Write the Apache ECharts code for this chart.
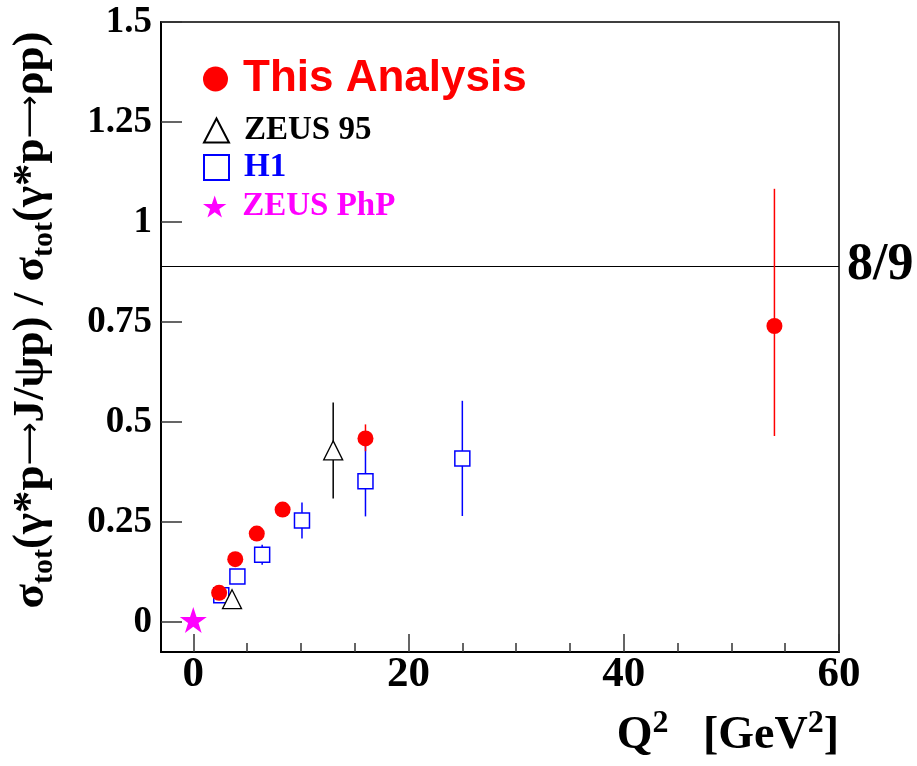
<!DOCTYPE html>
<html>
<head>
<meta charset="utf-8">
<script src="https://cdn.jsdelivr.net/npm/echarts@6/dist/echarts.min.js"></script>
<style>
  html, body { margin: 0; padding: 0; background: #fff; }
  #chart { width: 917px; height: 766px; }
</style>
</head>
<body>
<div id="chart"></div>
<script>
// Ratio sigma(J/psi) / sigma(rho) versus Q^2 [GeV^2]
const thisQ2 = [2.4, 3.9, 5.9, 8.3, 16.0, 54.0];
const thisRatio = [0.073, 0.157, 0.221, 0.281, 0.459, 0.740];
const thisErrUp = [0.010, 0.012, 0.014, 0.016, 0.035, 0.343];
const thisErrDown = [0.010, 0.012, 0.014, 0.016, 0.032, 0.275];

const zeusQ2 = [3.6, 13.0];
const zeusRatio = [0.057, 0.429];
const zeusErr = [0.012, 0.120];

const h1Q2 = [2.6, 4.1, 6.4, 10.1, 16.0, 25.0];
const h1Ratio = [0.067, 0.114, 0.168, 0.254, 0.352, 0.409];
const h1Err = [0.010, 0.012, 0.025, 0.045, 0.088, 0.144];

const phpQ2 = [0.0];
const phpRatio = [0.005];

const yTickValues = [0, 0.25, 0.5, 0.75, 1, 1.25, 1.5];
const xMajorTicks = [0, 20, 40, 60];
const xMinorTicks = [5, 10, 15, 25, 30, 35, 45, 50, 55];
const chargeRatio = 8 / 9;

const SERIF = '"Liberation Serif", "Times New Roman", serif';
const SANS = '"Liberation Sans", Arial, Helvetica, sans-serif';
const STAR = 'path://M50,0 L61.8,35.1 L98.9,35.1 L68.9,56.8 L80.3,91.9 L50,70.2 L19.7,91.9 L31.1,56.8 L1.1,35.1 L38.2,35.1 Z';

const pairs = (xs, ys) => xs.map((x, i) => [x, ys[i]]);
const bars = (xs, ys, up, down) => xs.map((x, i) => [x, ys[i] - down[i], ys[i] + up[i]]);

// vertical error bar drawn through the axis scales
function errorBar(color, width) {
  return function (params, api) {
    const hi = api.coord([api.value(0), api.value(2)]);
    const lo = api.coord([api.value(0), api.value(1)]);
    return {
      type: 'line',
      shape: { x1: hi[0], y1: hi[1], x2: lo[0], y2: lo[1] },
      style: { stroke: color, lineWidth: width }
    };
  };
}

function legendEntry(name, top, icon, size, font, color, w, h) {
  return {
    left: 203, top: top, orient: 'vertical', padding: 0,
    itemWidth: w, itemHeight: h, selectedMode: false,
    data: [{ name: name, icon: icon }],
    textStyle: {
      fontFamily: font, fontWeight: 'bold', fontSize: size,
      color: color, lineHeight: size, padding: [0, 0, 0, 10]
    }
  };
}

const chart = echarts.init(document.getElementById('chart'), null, { renderer: 'canvas' });

const titleRich = {
  m: { fontFamily: SERIF, fontWeight: 'bold', fontSize: 45, color: '#000', lineHeight: 56 },
  a: { fontFamily: '"DejaVu Sans", sans-serif', fontWeight: 'normal', fontSize: 30, color: '#000', lineHeight: 56 },
  b: { fontFamily: SERIF, fontWeight: 'bold', fontSize: 30, color: '#000', lineHeight: 30, padding: [26, 0, 0, 0] }
};

chart.setOption({
  animation: false,
  backgroundColor: '#fff',
  grid: {
    left: 161, right: 78, top: 22, bottom: 114,
    outerBoundsMode: 'none', containLabel: false,
    show: true, borderColor: '#000', borderWidth: 1.5, backgroundColor: 'transparent'
  },
  legend: [
    legendEntry('This Analysis', 57, 'circle', 44, SANS, '#ff0000', 25, 25),
    legendEntry('ZEUS 95', 114, 'triangle', 33, SERIF, '#000', 25, 24),
    legendEntry('H1', 151, 'rect', 33, SERIF, '#0000ff', 25, 25),
    legendEntry('ZEUS PhP', 190, STAR, 33, SERIF, '#ff00ff', 25, 22)
  ],
  xAxis: [
    {
      type: 'value', min: -3, max: 60, position: 'bottom',
      splitLine: { show: false },
      axisLine: { onZero: false, lineStyle: { color: '#000', width: 2 } },
      axisTick: { inside: true, length: 18, customValues: xMajorTicks, lineStyle: { color: '#333', width: 1.5 } },
      axisLabel: {
        customValues: xMajorTicks, margin: 1,
        fontFamily: SERIF, fontWeight: 'bold', fontSize: 43, color: '#000'
      },
      name: '{t|Q}{s|2}{t|   [GeV}{s|2}{t|]}',
      nameLocation: 'end', nameGap: 0,
      nameTextStyle: {
        align: 'right', verticalAlign: 'top', padding: [58, 0, 0, 0],
        rich: {
          t: { fontFamily: SERIF, fontWeight: 'bold', fontSize: 46, color: '#000', lineHeight: 52 },
          s: { fontFamily: SERIF, fontWeight: 'bold', fontSize: 32, color: '#000', lineHeight: 32, padding: [0, 0, 24, 0] }
        }
      }
    },
    {
      type: 'value', min: -3, max: 60, position: 'bottom',
      splitLine: { show: false },
      axisLine: { show: false, onZero: false },
      axisTick: { inside: true, length: 9, customValues: xMinorTicks, lineStyle: { color: '#333', width: 1.5 } },
      axisLabel: { show: false }
    }
  ],
  yAxis: {
    type: 'value', min: -0.075, max: 1.5,
    splitLine: { show: false },
    axisLine: { onZero: false, lineStyle: { color: '#000', width: 2 } },
    axisTick: { inside: true, length: 21, customValues: yTickValues, lineStyle: { color: '#333', width: 1.5 } },
    axisLabel: {
      customValues: yTickValues, margin: 9,
      fontFamily: SERIF, fontWeight: 'bold', fontSize: 37, color: '#000'
    },
    name: '{m|σ}{b|tot}{m|(γ*p}{a|⟶}{m|J/ψp) / σ}{b|tot}{m|(γ*p}{a|⟶}{m|ρp)}',
    nameLocation: 'middle', nameGap: 102, nameRotate: 90,
    nameTextStyle: { rich: titleRich, padding: [0, 0, 0, 34] }
  },
  series: [
    {
      name: 'H1 err', type: 'custom', renderItem: errorBar('#0000ff', 1.5),
      encode: { x: 0, y: [1, 2] }, z: 2,
      data: bars(h1Q2, h1Ratio, h1Err, h1Err)
    },
    {
      name: 'H1', type: 'scatter', symbol: 'rect', symbolSize: 15, z: 3,
      itemStyle: { color: '#fff', borderColor: '#0000ff', borderWidth: 1.5, opacity: 1 },
      data: pairs(h1Q2, h1Ratio)
    },
    {
      name: 'ZEUS 95 err', type: 'custom', renderItem: errorBar('#000', 1.5),
      encode: { x: 0, y: [1, 2] }, z: 4,
      data: bars(zeusQ2, zeusRatio, zeusErr, zeusErr)
    },
    {
      name: 'ZEUS 95', type: 'scatter', symbol: 'triangle', symbolSize: [19, 19], z: 5,
      itemStyle: { color: '#fff', borderColor: '#000', borderWidth: 1.3, opacity: 1 },
      data: pairs(zeusQ2, zeusRatio)
    },
    {
      name: 'ZEUS PhP', type: 'scatter', symbol: STAR, symbolSize: [27, 26], z: 6,
      itemStyle: { color: '#ff00ff', opacity: 1 },
      data: pairs(phpQ2, phpRatio)
    },
    {
      name: 'This Analysis err', type: 'custom', renderItem: errorBar('#ff0000', 1.5),
      encode: { x: 0, y: [1, 2] }, z: 7,
      data: bars(thisQ2, thisRatio, thisErrUp, thisErrDown)
    },
    {
      name: 'This Analysis', type: 'scatter', symbol: 'circle', symbolSize: 16, z: 8,
      itemStyle: { color: '#ff0000', opacity: 1 },
      data: pairs(thisQ2, thisRatio),
      markLine: {
        silent: true, symbol: ['none', 'none'],
        lineStyle: { color: '#000', width: 1, type: 'solid' },
        label: {
          show: true, position: 'end', distance: 8, formatter: '8/9',
          fontFamily: SERIF, fontWeight: 'bold', fontSize: 52, color: '#000'
        },
        data: [{ yAxis: chargeRatio }]
      }
    }
  ]
});
</script>
</body>
</html>
